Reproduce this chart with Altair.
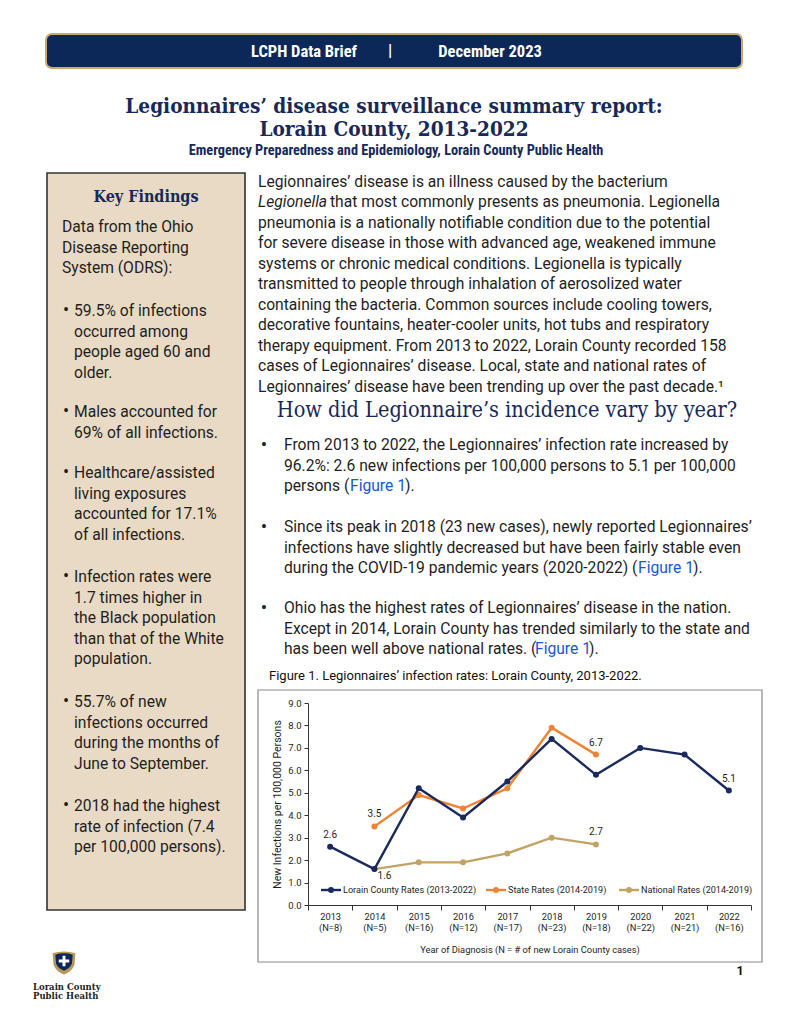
import altair as alt
import pandas as pd

# ---------------- data ----------------
years = [2013, 2014, 2015, 2016, 2017, 2018, 2019, 2020, 2021, 2022]
cases = [8, 5, 16, 12, 17, 23, 18, 22, 21, 16]
lorain_rates = [2.6, 1.6, 5.2, 3.9, 5.5, 7.4, 5.8, 7.0, 6.7, 5.1]
state_years = [2014, 2015, 2016, 2017, 2018, 2019]
state_rates = [3.5, 4.9, 4.3, 5.2, 7.9, 6.7]
national_years = [2014, 2015, 2016, 2017, 2018, 2019]
national_rates = [1.6, 1.9, 1.9, 2.3, 3.0, 2.7]
series_names = ["Lorain County Rates (2013-2022)", "State Rates (2014-2019)", "National Rates (2014-2019)"]
series_colors = ["#1B2A5C", "#EE8434", "#C2A366"]
# labelled points: (series index, year, position)
labelled = [(0, 2013, "above"), (0, 2014, "below"), (1, 2014, "above"), (1, 2019, "above"),
            (2, 2019, "above"), (0, 2022, "above")]

header_items = ["LCPH Data Brief", "|", "December 2023"]
title_lines = ["Legionnaires\u2019 disease surveillance summary report:", "Lorain County, 2013-2022"]
subtitle = "Emergency Preparedness and Epidemiology, Lorain County Public Health"
kf_heading = "Key Findings"
kf_intro = ["Data from the Ohio", "Disease Reporting", "System (ODRS):"]
kf_bullets = [
    ["59.5% of infections", "occurred among", "people aged 60 and", "older."],
    ["Males accounted for", "69% of all infections."],
    ["Healthcare/assisted", "living exposures", "accounted for 17.1%", "of all infections."],
    ["Infection rates were", "1.7 times higher in", "the Black population", "than that of the White", "population."],
    ["55.7% of new", "infections occurred", "during the months of", "June to September."],
    ["2018 had the highest", "rate of infection (7.4", "per 100,000 persons)."],
]
para_first = "Legionnaires\u2019 disease is an illness caused by the bacterium"
para_italic = "Legionella"
para_second = "that most commonly presents as pneumonia. Legionella"
para_rest = [
    "pneumonia is a nationally notifiable condition due to the potential",
    "for severe disease in those with advanced age, weakened immune",
    "systems or chronic medical conditions. Legionella is typically",
    "transmitted to people through inhalation of aerosolized water",
    "containing the bacteria. Common sources include cooling towers,",
    "decorative fountains, heater-cooler units, hot tubs and respiratory",
    "therapy equipment. From 2013 to 2022, Lorain County recorded 158",
    "cases of Legionnaires\u2019 disease. Local, state and national rates of",
    "Legionnaires\u2019 disease have been trending up over the past decade.\u00b9",
]
section_heading = "How did Legionnaire\u2019s incidence vary by year?"
right_bullets = [
    ["From 2013 to 2022, the Legionnaires\u2019 infection rate increased by",
     "96.2%: 2.6 new infections per 100,000 persons to 5.1 per 100,000",
     "persons ("],
    ["Since its peak in 2018 (23 new cases), newly reported Legionnaires\u2019",
     "infections have slightly decreased but have been fairly stable even",
     "during the COVID-19 pandemic years (2020-2022) ("],
    ["Ohio has the highest rates of Legionnaires\u2019 disease in the nation.",
     "Except in 2014, Lorain County has trended similarly to the state and",
     "has been well above national rates. ("],
]
link_text = "Figure 1"
link_close = ")."
caption = "Figure 1. Legionnaires\u2019 infection rates: Lorain County, 2013-2022."
x_title = "Year of Diagnosis (N = # of new Lorain County cases)"
y_title = "New Infections per 100,000 Persons"
logo_lines = ["Lorain County", "Public Health"]
page_number = "1"

# ---------------- layout ----------------
PAGE_W, PAGE_H = 775, 1008
PLOT_X, PLOT_Y, PLOT_W, PLOT_H = 308, 703, 443, 202
PAD = {"left": PLOT_X - 8, "top": PLOT_Y - 8,
       "right": PAGE_W - (PLOT_X - 8) - PLOT_W, "bottom": PAGE_H - (PLOT_Y - 8) - PLOT_H}
OX, OY = PLOT_X, PLOT_Y

NAVY = "#0B2859"
TITLE_NAVY = "#16295A"
BODY_COLOR = "#1E1E1E"
LINK = "#1A56D6"
BODY = "Roboto"
SLAB = "DejaVu Serif Condensed, DejaVu Serif"
COND = "Roboto Condensed, Roboto"
BODY_SIZE = 15.65

one = pd.DataFrame({"a": [0]})


def txt(rows, size, color, font=BODY, weight="normal", align="left", style="normal"):
    out = []
    for (px, py, t) in rows:
        out.append(alt.Chart(one).mark_text(text=t, align=align, baseline="middle", fontSize=size, font=font,
                                            fontWeight=weight, fontStyle=style, color=color).encode(
            x=alt.value(px - OX), y=alt.value(py - OY)))
    return out


def box(x1, y1, x2, y2, fill, stroke, sw, cr=0, fo=1):
    return alt.Chart(one).mark_rect(fill=fill, fillOpacity=fo, stroke=stroke, strokeWidth=sw, cornerRadius=cr).encode(
        x=alt.value(x1 - OX), x2=alt.value(x2 - OX), y=alt.value(y1 - OY), y2=alt.value(y2 - OY))


# ---- page furniture ----
layers = []
layers.append(box(46, 34, 742, 68, NAVY, "#C9A96E", 2, 6))
layers.append(box(47, 173, 245, 910, "#E9DAC5", "#333333", 1.6))
layers.append(box(258, 690, 762, 962, "#FFFFFF", "#8A8A8A", 1.2, fo=0))

# ---- chart data ----
yr_keys = [f"{y}|(N={n})" for y, n in zip(years, cases)]
key_of = dict(zip(years, yr_keys))
rows = []
for s, ys, vs in [(0, years, lorain_rates), (1, state_years, state_rates), (2, national_years, national_rates)]:
    for y, v in zip(ys, vs):
        pos = ""
        for (si, yy, p) in labelled:
            if si == s and yy == y:
                pos = p
        rows.append({"series": series_names[s], "yr": key_of[y], "value": v, "pos": pos})
df = pd.DataFrame(rows)

xenc = alt.X("yr:N", sort=yr_keys, bandPosition=0.5,
             scale=alt.Scale(type="band", domain=yr_keys, paddingInner=0, paddingOuter=0),
             axis=alt.Axis(title=x_title, labelExpr="split(datum.label, '|')", labelAngle=0,
                           tickBand="extent", tickSize=5, domainColor="#333333", tickColor="#333333",
                           labelFontSize=9.3, labelLineHeight=11, labelPadding=2, labelColor=BODY_COLOR,
                           labelFont=BODY, titleFont=BODY, titleFontSize=9.3, titleFontWeight="normal",
                           titleColor=BODY_COLOR, titlePadding=13, labelOverlap=False, zindex=1))
yenc = alt.Y("value:Q", scale=alt.Scale(domain=[0, 9], nice=False),
             axis=alt.Axis(title=y_title, values=list(range(10)), format=".1f", grid=False, tickSize=4,
                           domainColor="#333333", tickColor="#333333", labelFontSize=9.5, labelPadding=3,
                           labelColor=BODY_COLOR, labelFont=BODY, titleFont=BODY, titleFontSize=10.5,
                           titleFontWeight="normal", titleColor=BODY_COLOR, titlePadding=5, zindex=1))

base = alt.Chart(df)
for s in [1, 2, 0]:
    sub = base.transform_filter(alt.datum.series == series_names[s])
    layers.append(sub.mark_line(color=series_colors[s], strokeWidth=2.4).encode(x=xenc, y=yenc))
    layers.append(sub.mark_circle(color=series_colors[s], size=36, opacity=1).encode(x=xenc, y=yenc))

layers.append(base.transform_filter(alt.datum.pos == "above").mark_text(
    dy=-12, fontSize=10, font=BODY, color=BODY_COLOR).encode(x=xenc, y=yenc, text=alt.Text("value:Q", format=".1f")))
layers.append(base.transform_filter(alt.datum.pos == "below").mark_text(
    dx=10, dy=7, fontSize=10, font=BODY, color=BODY_COLOR).encode(x=xenc, y=yenc, text=alt.Text("value:Q", format=".1f")))

# ---- custom legend ----
leg_x = [321, 486, 619]
leg_y = 890
for i in range(3):
    layers.append(alt.Chart(one).mark_rule(color=series_colors[i], strokeWidth=2.4).encode(
        x=alt.value(leg_x[i] - OX), x2=alt.value(leg_x[i] + 20 - OX), y=alt.value(leg_y - OY)))
    layers.append(alt.Chart(one).mark_circle(color=series_colors[i], size=36, opacity=1).encode(
        x=alt.value(leg_x[i] + 10 - OX), y=alt.value(leg_y - OY)))
layers += txt([(leg_x[i] + 22, leg_y, series_names[i]) for i in range(3)], 9.1, BODY_COLOR)

# ---- header / titles ----
layers += txt([(304, 52, header_items[0]), (390, 51, header_items[1]), (490, 52, header_items[2])],
              16.5, "#FFFFFF", font=COND, weight="bold", align="center")
layers += txt([(394, 107, title_lines[0]), (394, 130, title_lines[1])], 20.6, TITLE_NAVY,
              font=SLAB, weight="bold", align="center")
layers += txt([(396, 151, subtitle)], 14.3, TITLE_NAVY, font=COND, weight="bold", align="center")

# ---- key findings ----
layers += txt([(146, 197, kf_heading)], 16, TITLE_NAVY, font=SLAB, weight="bold", align="center")
LH = 20.6
kf_rows = [(62, 227 + i * LH, t) for i, t in enumerate(kf_intro)]
kf_starts = [311, 412, 473, 577, 702, 806]
bullet_rows = []
for st, lines in zip(kf_starts, kf_bullets):
    bullet_rows.append((66, st, "\u2022"))
    for i, t in enumerate(lines):
        kf_rows.append((74, st + i * LH, t))
layers += txt(kf_rows, BODY_SIZE, BODY_COLOR)
layers += txt(bullet_rows, 18, BODY_COLOR, align="center")

# ---- right column paragraph ----
PLH = 20.5
p_rows = [(258, 181.7, para_first), (330, 181.7 + PLH, para_second)]
p_rows += [(258, 181.7 + (i + 2) * PLH, t) for i, t in enumerate(para_rest)]
layers += txt(p_rows, BODY_SIZE, BODY_COLOR)
layers += txt([(258, 181.7 + PLH, para_italic)], BODY_SIZE, BODY_COLOR, style="italic")

layers += txt([(507, 411, section_heading)], 21.5, TITLE_NAVY, font=SLAB, align="center")

rb_starts = [445, 527, 608]
link_x = [350, 638, 535]
close_x = [405, 693, 589]
rb_rows, rb_dots, link_rows = [], [], []
for st, lines, lx, cx in zip(rb_starts, right_bullets, link_x, close_x):
    rb_dots.append((264, st, "\u2022"))
    for i, t in enumerate(lines):
        rb_rows.append((284, st + i * PLH, t))
    rb_rows.append((cx, st + 2 * PLH, link_close))
    link_rows.append((lx, st + 2 * PLH, link_text))
layers += txt(rb_rows, BODY_SIZE, BODY_COLOR)
layers += txt(rb_dots, 19, BODY_COLOR, align="center")
layers += txt(link_rows, BODY_SIZE, LINK)

layers += txt([(269, 676, caption)], 13, "#111111")

# ---- logo & page number ----
shield = "M-1,-0.85 Q0,-1.15 1,-0.85 L0.92,0.15 Q0.7,0.75 0,1 Q-0.7,0.75 -0.92,0.15 Z"
cross = "M-0.28,-1 L0.28,-1 L0.28,-0.3 L1,-0.3 L1,0.3 L0.28,0.3 L0.28,1 L-0.28,1 L-0.28,0.3 L-1,0.3 L-1,-0.3 L-0.28,-0.3 Z"
layers.append(alt.Chart(one).mark_point(shape=shield, size=520, filled=True, fill="#B8965A", opacity=1, strokeWidth=0).encode(
    x=alt.value(64 - OX), y=alt.value(963 - OY)))
layers.append(alt.Chart(one).mark_point(shape=shield, size=300, filled=True, fill=NAVY, opacity=1, strokeWidth=0).encode(
    x=alt.value(64 - OX), y=alt.value(962 - OY)))
layers.append(alt.Chart(one).mark_point(shape=cross, size=110, filled=True, fill="#FFFFFF", opacity=1, strokeWidth=0).encode(
    x=alt.value(64 - OX), y=alt.value(961 - OY)))
layers += txt([(33, 987, logo_lines[0]), (33, 996, logo_lines[1])], 8.5, "#1E1E1E", font="DejaVu Serif", weight="bold")
layers += txt([(740, 971, page_number)], 12.5, "#111111", weight="bold", align="center")

chart = alt.layer(*layers).properties(
    width=PLOT_W, height=PLOT_H,
    autosize=alt.AutoSizeParams(type="none"),
    padding=PAD,
).configure_view(stroke=None)

chart.save("out.html", embed_options={"renderer": "svg", "actions": False})
